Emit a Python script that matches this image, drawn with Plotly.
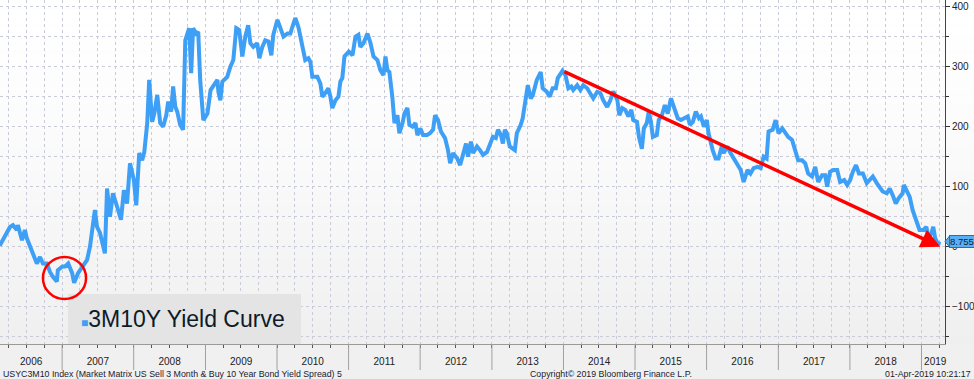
import plotly.graph_objects as go

# ---------------- data ----------------
dates = [
    "2006-02-17", "2006-03-06", "2006-03-24", "2006-04-10", "2006-04-25", "2006-05-15", "2006-05-20",
    "2006-06-10", "2006-06-25", "2006-07-05", "2006-07-21", "2006-08-05", "2006-08-25", "2006-09-10",
    "2006-09-25", "2006-10-15", "2006-10-31", "2006-11-15", "2006-12-05", "2006-12-10",
    "2007-01-02", "2007-01-16", "2007-02-01", "2007-02-21", "2007-03-03", "2007-03-23", "2007-04-17",
    "2007-05-08", "2007-05-23", "2007-06-07", "2007-06-17", "2007-06-28", "2007-07-13", "2007-08-07",
    "2007-08-18", "2007-09-02", "2007-09-17", "2007-10-08", "2007-10-28", "2007-11-12", "2007-11-28",
    "2007-12-13",
    "2008-01-02", "2008-01-14", "2008-01-29", "2008-02-13", "2008-02-24", "2008-03-10", "2008-03-20",
    "2008-04-04", "2008-04-15", "2008-04-30", "2008-05-15", "2008-05-30", "2008-06-15", "2008-06-25",
    "2008-07-10", "2008-07-20", "2008-07-31", "2008-08-10", "2008-08-25", "2008-09-09", "2008-09-20",
    "2008-10-10", "2008-10-20", "2008-10-30", "2008-11-15", "2008-11-25", "2008-12-05", "2008-12-21",
    "2009-01-11", "2009-01-27", "2009-02-11", "2009-03-03", "2009-03-08", "2009-03-18", "2009-03-28",
    "2009-04-22", "2009-05-08", "2009-05-23", "2009-06-07", "2009-06-22", "2009-07-08", "2009-07-23",
    "2009-08-07", "2009-08-18", "2009-09-02", "2009-09-22", "2009-10-03", "2009-10-18", "2009-11-02",
    "2009-11-18", "2009-12-03", "2009-12-13",
    "2010-01-03", "2010-01-19", "2010-02-03", "2010-02-23", "2010-03-10", "2010-03-20", "2010-04-04",
    "2010-04-20", "2010-05-10", "2010-05-25", "2010-06-10", "2010-06-20", "2010-06-30", "2010-07-26",
    "2010-08-10", "2010-08-20", "2010-09-04", "2010-09-20", "2010-09-30", "2010-10-10", "2010-10-26",
    "2010-11-10", "2010-11-20", "2010-11-30", "2010-12-11",
    "2011-01-02", "2011-01-21", "2011-02-05", "2011-02-20", "2011-03-02", "2011-03-18", "2011-04-07",
    "2011-04-22", "2011-05-08", "2011-05-28", "2011-06-12", "2011-06-28", "2011-07-08", "2011-07-18",
    "2011-07-28", "2011-08-12", "2011-08-23", "2011-09-07", "2011-09-17", "2011-10-03", "2011-10-13",
    "2011-10-28", "2011-11-07", "2011-11-23", "2011-12-08", "2011-12-18",
    "2012-01-02", "2012-01-16", "2012-02-05", "2012-02-20", "2012-03-07", "2012-03-17", "2012-04-01",
    "2012-04-16", "2012-05-07", "2012-05-22", "2012-06-02", "2012-06-17", "2012-07-08", "2012-07-23",
    "2012-08-07", "2012-08-22", "2012-09-01", "2012-09-16", "2012-09-27", "2012-10-17", "2012-11-01",
    "2012-11-17", "2012-12-07", "2012-12-22",
    "2013-01-06", "2013-01-21", "2013-02-01", "2013-02-16", "2013-02-26", "2013-03-08", "2013-03-18",
    "2013-04-02", "2013-04-18", "2013-04-28", "2013-05-08", "2013-05-28", "2013-06-07", "2013-06-23",
    "2013-07-03", "2013-07-18", "2013-07-29", "2013-08-18", "2013-09-07", "2013-09-17", "2013-10-08",
    "2013-10-23", "2013-11-07", "2013-11-23", "2013-12-03", "2013-12-27",
    "2014-01-11", "2014-01-26", "2014-02-10", "2014-02-20", "2014-03-12", "2014-03-28", "2014-04-12",
    "2014-05-02", "2014-05-18", "2014-06-02", "2014-06-22", "2014-07-08", "2014-07-23", "2014-08-12",
    "2014-08-28", "2014-09-12", "2014-10-03", "2014-10-13", "2014-10-28", "2014-11-12", "2014-11-28",
    "2014-12-13", "2014-12-23",
    "2015-01-11", "2015-01-21", "2015-02-05", "2015-02-15", "2015-03-02", "2015-03-12", "2015-03-23",
    "2015-04-02", "2015-04-22", "2015-05-02", "2015-05-18", "2015-06-02", "2015-06-17", "2015-07-03",
    "2015-07-18", "2015-08-07", "2015-08-23", "2015-09-07", "2015-09-27", "2015-10-08", "2015-10-23",
    "2015-11-07", "2015-11-23", "2015-12-03", "2015-12-18",
    "2016-01-02", "2016-01-11", "2016-02-01", "2016-02-16", "2016-03-02", "2016-03-18", "2016-03-28",
    "2016-04-17", "2016-05-02", "2016-05-18", "2016-06-07", "2016-06-23", "2016-07-08", "2016-07-28",
    "2016-08-12", "2016-08-28", "2016-09-17", "2016-10-03", "2016-10-18", "2016-11-02", "2016-11-12",
    "2016-12-03", "2016-12-18",
    "2017-01-02", "2017-01-21", "2017-02-05", "2017-02-20", "2017-03-12", "2017-03-28", "2017-04-12",
    "2017-05-02", "2017-05-18", "2017-06-02", "2017-06-22", "2017-07-08", "2017-07-23", "2017-08-12",
    "2017-08-28", "2017-09-07", "2017-09-22", "2017-10-08", "2017-10-28", "2017-11-12", "2017-12-03",
    "2017-12-18",
    "2018-01-02", "2018-01-16", "2018-02-01", "2018-02-16", "2018-03-08", "2018-03-28", "2018-04-12",
    "2018-04-28", "2018-05-18", "2018-06-02", "2018-06-17", "2018-07-08", "2018-07-23", "2018-08-07",
    "2018-08-23", "2018-09-07", "2018-09-27", "2018-10-03", "2018-10-18", "2018-11-02", "2018-11-17",
    "2018-12-07", "2018-12-22",
    "2019-01-11", "2019-01-26", "2019-02-05", "2019-02-20", "2019-03-02", "2019-03-12", "2019-03-28",
    "2019-04-01",
]
spread_bp = [
    2, 14, 23, 33, 36, 28, 36,
    11, 28, 14, 0, -14, -28, -17,
    -28, -28, -42, -50, -58, -39,
    -33, -33, -28, -44, -60, -44, -31,
    -22, 0, 33, 61, 33, 23, -11,
    97, 50, 89, 67, 45, 94, 72,
    139,
    111, 69, 156, 144, 158, 206, 278,
    208, 222, 253, 206, 200, 219, 242,
    225, 267, 233, 225, 203, 195, 344,
    364, 289, 364, 355, 358, 278, 211,
    222, 261, 269, 278, 258, 244, 275,
    283, 300, 311, 364, 361, 317, 350,
    369, 339, 333, 339, 314, 333, 344,
    342, 319, 353,
    378, 361, 350, 355, 355, 366, 381,
    366, 333, 311, 314, 308, 283, 283,
    272, 250, 256, 264, 250, 231, 244,
    250, 275, 281, 317,
    325, 319, 350, 353, 333, 339, 355,
    340, 317, 311, 294, 286, 317, 294,
    291, 250, 206, 219, 189, 206, 222,
    231, 203, 200, 206, 186,
    197, 186, 186, 189, 195, 219, 211,
    192, 181, 161, 139, 156, 147, 136,
    156, 172, 150, 175, 156, 167, 161,
    153, 158, 169,
    183, 181, 195, 186, 172, 195, 189,
    167, 164, 161, 189, 203, 214, 250,
    269, 247, 253, 278, 291, 264, 258,
    250, 264, 264, 281, 293,
    286, 264, 267, 261, 269, 261, 269,
    264, 256, 247, 258, 256, 244, 233,
    244, 259, 244, 219, 231, 228, 217,
    228, 211,
    208, 183, 163, 197, 206, 225, 208,
    183, 186, 211, 219, 236, 222, 247,
    233, 214, 211, 214, 217, 203, 208,
    225, 214, 217, 200,
    211, 189, 161, 147, 147, 167, 156,
    167, 156, 147, 139, 128, 108, 128,
    122, 131, 133, 131, 150, 147, 192,
    195, 211,
    189, 197, 189, 183, 178, 161, 144,
    144, 139, 122, 117, 133, 108, 119,
    119, 100, 125, 128, 128, 108, 111,
    103,
    111, 125, 136, 122, 122, 106, 111,
    117, 106, 100, 92, 89, 97, 86,
    72, 81, 89, 103, 92, 83, 61,
    44, 28,
    28, 33, 16, 22, 33, 14, 3,
    8.755,
]

year_labels = ["2006", "2007", "2008", "2009", "2010", "2011", "2012",
               "2013", "2014", "2015", "2016", "2017", "2018", "2019"]
year_label_dates = ["2006-07-27", "2007-07-02", "2008-07-02", "2009-07-02", "2010-07-02",
                    "2011-07-02", "2012-07-02", "2013-07-02", "2014-07-02", "2015-07-02",
                    "2016-07-02", "2017-07-02", "2018-07-02", "2019-03-12"]
year_starts = ["2007-01-01", "2008-01-01", "2009-01-01", "2010-01-01", "2011-01-01",
               "2012-01-01", "2013-01-01", "2014-01-01", "2015-01-01", "2016-01-01",
               "2017-01-01", "2018-01-01", "2019-01-01"]

last_value = 8.755
trend_start_date, trend_start_value = "2013-12-29", 293
trend_end_date, trend_end_value = "2019-04-07", 0
circle_dates = ["2006-09-25", "2007-05-03"]
circle_values = [-87, -17]

legend_label = "3M10Y Yield Curve"
footer_left = "USYC3M10 Index (Market Matrix US Sell 3 Month &amp; Buy 10 Year Bond Yield Spread) 5"
footer_mid = "Copyright\u00a9 2019 Bloomberg Finance L.P."
footer_right = "01-Apr-2019 10:21:17"

# ---------------- styling ----------------
FONT = "Liberation Sans, Arial, sans-serif"
LINE_BLUE = "#3d9ff5"
GRID = "#c9cbd8"
W, H = 974, 379
ML, MR, MT, MB = 0, 29, 0, 35
PW = W - ML - MR
PH = H - MT - MB

fig = go.Figure()
fig.add_trace(go.Scatter(
    x=dates, y=spread_bp, mode="lines",
    line=dict(color=LINE_BLUE, width=4),
    showlegend=False, hoverinfo="x+y",
))

shapes = []
# background gradient (white at top -> light grey at bottom)
N = 40
for i in range(N):
    t0 = i / N
    t1 = (i + 1) / N
    tm = (t0 + t1) / 2
    c = int(round(255 - 16 * (1 - tm) ** 1.5))
    shapes.append(dict(type="rect", xref="paper", yref="paper",
                       x0=0, x1=W / PW, y0=t0, y1=t1 + 0.001,
                       fillcolor=f"rgb({c},{c},{c})", line=dict(width=0), layer="below"))

# year separators below the axis
for d in year_starts:
    shapes.append(dict(type="line", xref="x", yref="paper", x0=d, x1=d,
                       y0=0, y1=-26 / PH, line=dict(color="#a0a0a0", width=1)))

# legend box
shapes.append(dict(type="rect", xref="paper", yref="paper",
                   x0=68 / PW, x1=301 / PW, y0=0, y1=50 / PH,
                   fillcolor="#e4e4e4", line=dict(width=0), layer="above"))

# red circle
shapes.append(dict(type="circle", xref="x", yref="y",
                   x0=circle_dates[0], x1=circle_dates[1],
                   y0=circle_values[0], y1=circle_values[1],
                   line=dict(color="#ff0000", width=2.5), layer="above"))

# pointer of last-value tag
shapes.append(dict(type="path", xref="paper", yref="y",
                   xsizemode="pixel", ysizemode="pixel",
                   xanchor=1, yanchor=last_value,
                   path="M 0,0 L 5,6 L 5,-6 Z",
                   fillcolor="#5aaef2", line=dict(color="#2b6cb0", width=1), layer="above"))

annotations = [
    # trend arrow
    dict(x=trend_end_date, y=trend_end_value, ax=trend_start_date, ay=trend_start_value,
         xref="x", yref="y", axref="x", ayref="y", text="", showarrow=True,
         arrowhead=2, arrowsize=1.1, arrowwidth=3.5, arrowcolor="#ff0000", standoff=0),
    # last value tag
    dict(x=1, xref="paper", y=last_value, yref="y", xanchor="left", yanchor="middle",
         xshift=4, text="8.755", showarrow=False,
         font=dict(family=FONT, size=9.5, color="#0b1f3a"),
         bgcolor="#5aaef2", bordercolor="#2b6cb0", borderwidth=1, borderpad=0),
    # legend text
    dict(x=79 / PW, xref="paper", y=25 / PH, yref="paper", xanchor="left", yanchor="middle",
         text=f'<span style="font-size:12px;color:{LINE_BLUE}">\u25a0</span>{legend_label}',
         showarrow=False, font=dict(family=FONT, size=23, color="#0d1b2a")),
    # footers
    dict(x=1 / PW, xref="paper", y=-30 / PH, yref="paper", xanchor="left", yanchor="middle",
         text=footer_left, showarrow=False, font=dict(family=FONT, size=8.8, color="#1a1a2e")),
    dict(x=611 / PW, xref="paper", y=-30 / PH, yref="paper", xanchor="center", yanchor="middle",
         text=footer_mid, showarrow=False, font=dict(family=FONT, size=8.8, color="#1a1a2e")),
    dict(x=973 / PW, xref="paper", y=-30 / PH, yref="paper", xanchor="right", yanchor="middle",
         text=footer_right, showarrow=False, font=dict(family=FONT, size=8.8, color="#1a1a2e")),
]

fig.update_layout(
    width=W, height=H,
    margin=dict(l=ML, r=MR, t=MT, b=MB, pad=0, autoexpand=False),
    paper_bgcolor="#f0f0f0", plot_bgcolor="rgba(0,0,0,0)",
    showlegend=False,
    font=dict(family=FONT, size=10, color="#222222"),
    shapes=shapes, annotations=annotations,
    xaxis=dict(
        type="date", range=["2006-02-18", "2019-05-01"], automargin=False,
        tickmode="array", tickvals=year_label_dates, ticktext=year_labels,
        ticks="", showgrid=False, zeroline=False,
        showline=True, linecolor="#9a9a9a", linewidth=1,
        tickfont=dict(family=FONT, size=10, color="#222222"),
        ticklabelstandoff=8,
        minor=dict(tickmode="linear", tick0="2006-01-01", dtick="M3",
                   ticks="outside", ticklen=3, tickcolor="#555555",
                   showgrid=True, gridcolor=GRID, griddash="dot", gridwidth=1),
        fixedrange=True,
    ),
    yaxis=dict(
        side="right", range=[-162, 411], tick0=0, dtick=100, automargin=False,
        ticks="outside", ticklen=4, tickcolor="#333333",
        showline=True, linecolor="#444444", linewidth=1,
        showgrid=True, gridcolor=GRID, griddash="dot", gridwidth=1,
        zeroline=False,
        tickfont=dict(family=FONT, size=10, color="#222222"),
        minor=dict(tick0=0, dtick=50, ticks="outside", ticklen=3, tickcolor="#333333",
                   showgrid=True, gridcolor=GRID, griddash="dot", gridwidth=1),
        fixedrange=True,
    ),
)

fig.write_html(
    "out.html",
    config={"displayModeBar": False},
    post_script="document.body.style.margin='0px';document.body.style.padding='0px';",
)
